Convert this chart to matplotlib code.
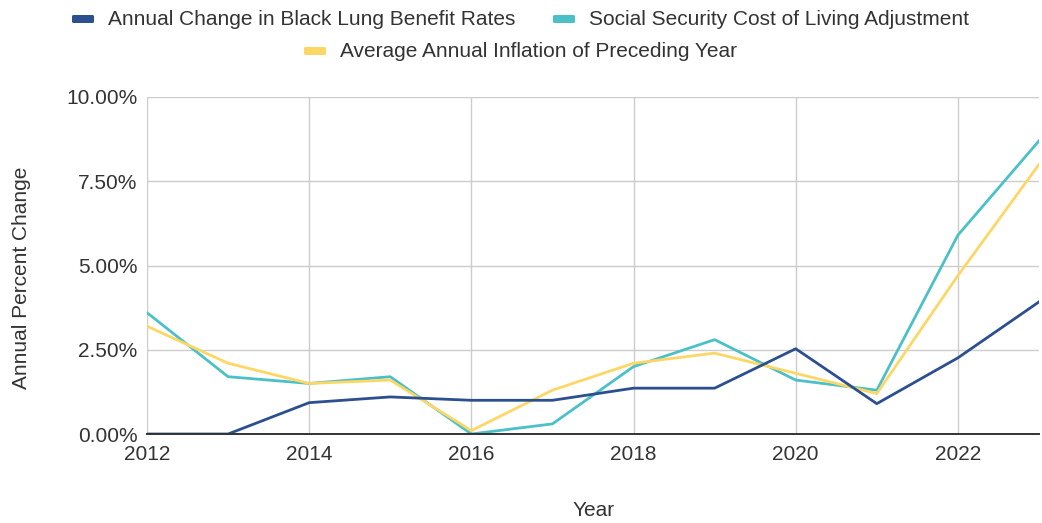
#!/usr/bin/env python3
"""Black lung benefit rate changes vs. SS COLA vs. inflation, 2012-2023."""
import matplotlib
matplotlib.use("Agg")
import matplotlib.pyplot as plt
from matplotlib.patches import FancyBboxPatch
from matplotlib.ticker import FuncFormatter, MultipleLocator

plt.rcParams["font.family"] = ["Liberation Sans", "DejaVu Sans"]

years = [2012, 2013, 2014, 2015, 2016, 2017, 2018, 2019, 2020, 2021, 2022, 2023]
black_lung = [0.0, 0.0, 0.93, 1.1, 1.0, 1.0, 1.36, 1.36, 2.53, 0.9, 2.26, 3.92]
ss_cola = [3.6, 1.7, 1.5, 1.7, 0.0, 0.3, 2.0, 2.8, 1.6, 1.3, 5.9, 8.7]
inflation = [3.2, 2.1, 1.5, 1.6, 0.1, 1.3, 2.1, 2.4, 1.8, 1.2, 4.7, 8.0]

labels = ["Annual Change in Black Lung Benefit Rates",
          "Social Security Cost of Living Adjustment",
          "Average Annual Inflation of Preceding Year"]
C_BLUE = "#2c4f8f"; C_TEAL = "#4bc0c8"; C_YEL = "#fdd766"
TXT = "#333333"

W, H = 1042, 523
fig = plt.figure(figsize=(W / 100, H / 100), dpi=100)
ax = fig.add_axes([147 / W, 1 - 434 / H, (1039 - 147) / W, (434 - 97) / H])

ax.plot(years, black_lung, color=C_BLUE, lw=2.0, zorder=4)
ax.plot(years, ss_cola, color=C_TEAL, lw=2.0, zorder=3)
ax.plot(years, inflation, color=C_YEL, lw=2.0, zorder=3.5)

ax.set_xlim(2012, 2023)
ax.set_ylim(0, 10)
ax.xaxis.set_major_locator(MultipleLocator(2))
ax.yaxis.set_major_locator(MultipleLocator(2.5))
ax.yaxis.set_major_formatter(FuncFormatter(lambda v, _: f"{v:.2f}%"))
ax.grid(True, color="#cccccc", lw=1.0, zorder=0)
ax.set_axisbelow(True)
for s in ("top", "right", "left"):
    ax.spines[s].set_visible(False)
ax.spines["bottom"].set_color("#333333")
ax.spines["bottom"].set_linewidth(1.4)
ax.spines["bottom"].set_zorder(5)
ax.tick_params(length=0, labelsize=15, colors=TXT)
ax.tick_params(axis="x", pad=8)
ax.tick_params(axis="y", pad=7)

# axis titles
fig.text(22 / W, 1 - 278 / H, "Annual Percent Change", rotation=90,
         ha="center", va="center", fontsize=15, color=TXT)
fig.text(594 / W, 1 - 511 / H, "Year", ha="center", va="center",
         fontsize=15, color=TXT)

# legend drawn by hand: two entries on row one, one centred on row two
entries = [(72, 25, C_BLUE, labels[0]),
           (553, 25, C_TEAL, labels[1]),
           (304, 57, C_YEL, labels[2])]
for x, base, col, lab in entries:
    fig.add_artist(FancyBboxPatch((x / W, 1 - (base - 2) / H), 22 / W, 8 / H,
                                  boxstyle="round,pad=0,rounding_size=0.002",
                                  transform=fig.transFigure, fc=col, ec="none"))
    fig.text((x + 36) / W, 1 - base / H, lab, ha="left", va="baseline",
             fontsize=15, color=TXT)

fig.savefig("out.png", dpi=100)
